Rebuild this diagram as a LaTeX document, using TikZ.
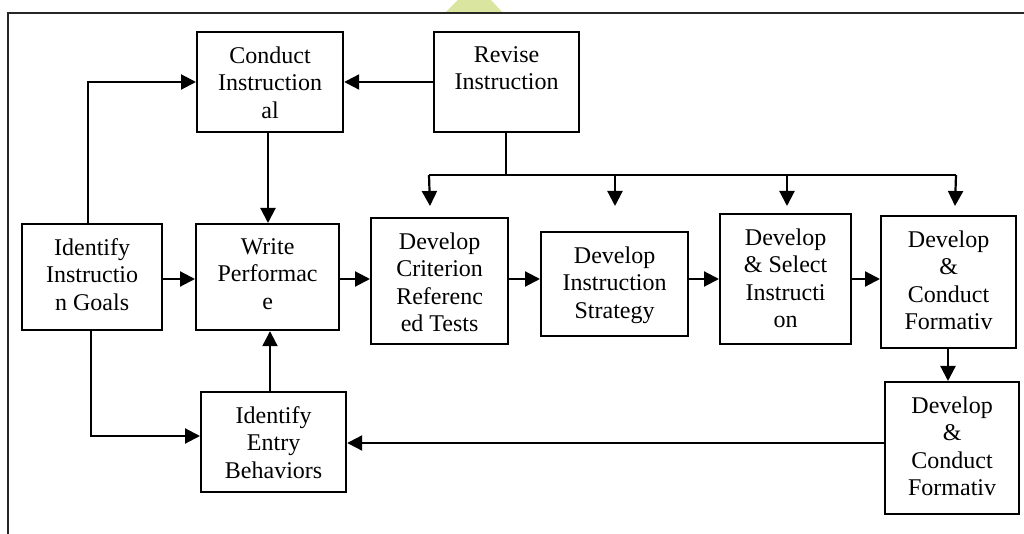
\documentclass[tikz,border=0pt]{standalone}
\usepackage{fontspec}
\setmainfont{Liberation Serif}
\usetikzlibrary{arrows.meta,calc}
\definecolor{wmark}{RGB}{218,230,160}
\tikzset{
  frameline/.style={line width=1.1pt, draw=black!85},
  stepbox/.style={draw, line width=1.1pt, inner sep=0pt, anchor=north west},
  steptext/.style={anchor=north, inner sep=0pt, align=center,
    font=\fontsize{12pt}{13.8pt}\selectfont,
    execute at begin node={\rule{0pt}{9pt}}},
  conn/.style={line width=1.1pt, -{Triangle[length=7.5pt,width=7.5pt]}},
  plain/.style={line width=1.1pt}
}
% \stepnode{name}{x1}{y1}{x2}{y2}{text}
\newcommand{\stepnode}[6]{%
  \path let \n1={#4-#2}, \n2={#5-#3} in
    node[stepbox, minimum width=\n1*0.5pt, minimum height=\n2*0.5pt] (#1) at (#2,#3) {};
  \node[steptext] (#1T) at ([yshift=-7.5pt]#1.north) {#6};
}
\begin{document}
\begin{tikzpicture}[x=0.5pt,y=-0.5pt]
\useasboundingbox (0,0) rectangle (1024,534);
% watermark
\fill[wmark] (445,13) -- (458,0) -- (491,0) -- (503,13) -- cycle;
% frame (top and left only)
\coordinate (fTL) at (8,13);
\coordinate (fTR) at (1024,13);
\coordinate (fBL) at (8,534);
\draw[frameline] (fTR) -- (fTL) -- (fBL);

% boxes
\stepnode{conduct}{196}{31}{342}{131}{Conduct\\Instruction\\al}
\stepnode{revise}{433}{31}{578}{131}{Revise\\Instruction}
\stepnode{goals}{21}{223}{161}{329}{Identify\\Instructio\\n Goals}
\stepnode{write}{195}{223}{338}{329}{Write\\Performac\\e}
\stepnode{crit}{370}{217}{507}{343}{Develop\\Criterion\\Referenc\\ed Tests}
\stepnode{strat}{540}{231}{687}{335}{Develop\\Instruction\\Strategy}
\stepnode{select}{719}{213}{850}{343}{Develop\\\& Select\\Instructi\\on}
\stepnode{formA}{880}{215}{1015}{347}{Develop\\\&\\Conduct\\Formativ}
\stepnode{formB}{884}{381}{1018}{513}{Develop\\\&\\Conduct\\Formativ}
\stepnode{entry}{200}{391}{345}{491}{Identify\\Entry\\Behaviors}

% helper coordinates
\coordinate (busL) at (429,175);
\coordinate (busR) at (956,175);
\coordinate (busM) at (506,175);
\coordinate (tipA) at (430,206);
\coordinate (tipB) at (615,206);
\coordinate (tipC) at (787,206);
\coordinate (tipD) at (955,206);

% connectors
\draw[conn] (goals.north -| 88,0) |- (conduct.west |- 0,82);
\draw[conn] (revise.west |- 0,82) -- (conduct.east |- 0,82);
\draw[conn] (conduct.south -| 268,0) -- (write.north -| 268,0);
\draw[plain] (revise.south -| busM) -- (busM);
\draw[plain] (busL) -- (busR);
\draw[conn] (busL) -- (tipA);
\draw[conn] (tipB |- busL) -- (tipB);
\draw[conn] (tipC |- busL) -- (tipC);
\draw[conn] (busR) -- (tipD);
\draw[conn] (goals.east |- 0,279) -- (write.west |- 0,279);
\draw[conn] (write.east |- 0,279) -- (crit.west |- 0,279);
\draw[conn] (crit.east |- 0,279) -- (strat.west |- 0,279);
\draw[conn] (strat.east |- 0,279) -- (select.west |- 0,279);
\draw[conn] (select.east |- 0,279) -- (formA.west |- 0,279);
\draw[conn] (formA.south -| 948,0) -- (formB.north -| 948,0);
\draw[conn] (formB.west |- 0,443) -- (entry.east |- 0,443);
\draw[conn] (goals.south -| 91,0) |- (entry.west |- 0,436);
\draw[conn] (entry.north -| 270,0) -- (write.south -| 270,0);
\end{tikzpicture}
\end{document}
